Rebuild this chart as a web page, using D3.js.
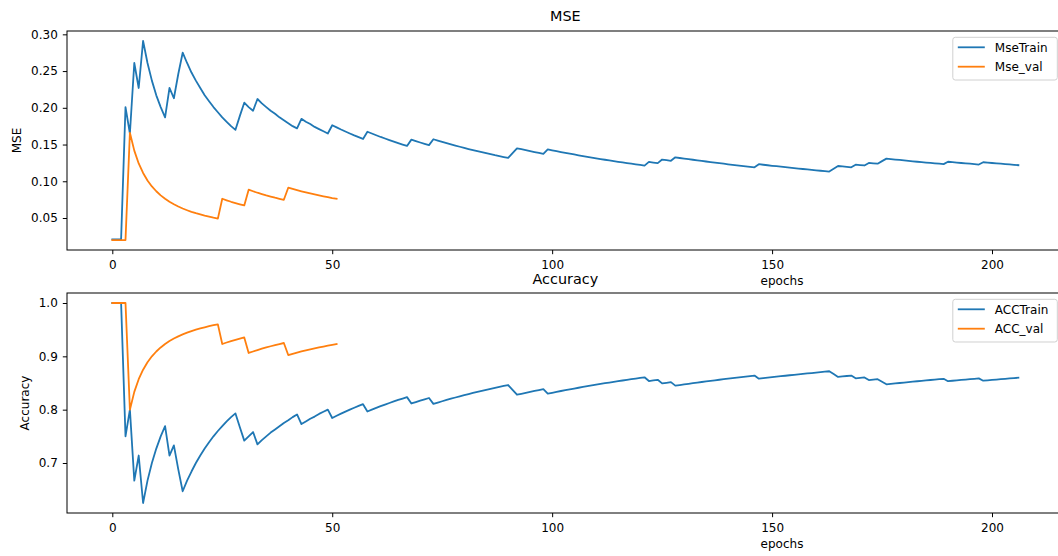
<!DOCTYPE html>
<meta charset="utf-8">
<style>
body { margin: 0; background: #fff; }
svg text { font-family: 'DejaVu Sans', sans-serif; fill: #000; }
</style>
<body>
<svg class="chart"></svg>
<script src="https://d3js.org/d3.v7.min.js"></script>
<script>
// values, one entry per epoch (0..206 train, 0..51 val)
const mseTrain = [
  .021,.021,.021,.201,.165,.261,.227,.291,.261,.237,
  .217,.201,.187,.227,.213,.246,.275,.261,.248,.237,
  .227,.217,.209,.201,.194,.187,.181,.175,.170,.189,
  .207,.201,.196,.212,.206,.201,.196,.192,.187,.183,
  .179,.175,.172,.185,.181,.178,.174,.171,.168,.165,
  .1763,.1733,.1704,.1677,.165,.1624,.160,.1576,.1674,.165,
  .1626,.1603,.1582,.156,.1539,.1519,.150,.1481,.1567,.1547,
  .1528,.151,.1492,.1572,.1554,.1536,.1519,.1502,.1486,.147,
  .1454,.1439,.1425,.141,.1396,.1382,.1369,.1355,.1343,.133,
  .1318,.1384,.1449,.1436,.1423,.141,.1398,.1386,.1374,.1434,
  .1422,.141,.1398,.1387,.1376,.1365,.1354,.1343,.1333,.1323,
  .1313,.1303,.1293,.1284,.1274,.1265,.1256,.1247,.1239,.123,
  .1222,.1213,.1264,.1255,.1247,.1296,.1287,.1279,.1326,.1317,
  .1309,.1301,.1293,.1285,.1277,.1269,.1261,.1253,.1246,.1239,
  .1231,.1224,.1217,.121,.1203,.1196,.119,.1232,.1225,.1218,
  .1211,.1205,.1198,.1192,.1185,.1179,.1173,.1167,.1161,.1155,
  .1149,.1143,.1138,.1132,.117,.1208,.1202,.1196,.119,.1226,
  .1221,.1215,.125,.1244,.1239,.1274,.1308,.1302,.1296,.129,
  .1284,.1278,.1272,.1266,.1261,.1255,.125,.1244,.1239,.1233,
  .1266,.126,.1255,.1249,.1244,.1239,.1233,.1228,.1259,.1254,
  .1249,.1244,.1239,.1234,.1229,.1224,.1219
];
const mseVal = [
  .02,.02,.02,.02,.166,.1417,.1243,.1113,.1011,.093,
  .0864,.0808,.0762,.0721,.0687,.0656,.0629,.0606,.0584,.0565,
  .0548,.0532,.0518,.0504,.0492,.0762,.0741,.0721,.0704,.0687,
  .0671,.0885,.0864,.0844,.0826,.0808,.0792,.0776,.0762,.0748,
  .0912,.0895,.0879,.0864,.0849,.0835,.0821,.0808,.0796,.0784,
  .0772,.0762
];
const accTrain = [
  1,1,1,.750,.800,.667,.714,.625,.667,.700,
  .727,.750,.769,.714,.733,.688,.647,.667,.684,.700,
  .714,.727,.739,.750,.760,.769,.778,.786,.793,.767,
  .742,.750,.758,.735,.743,.750,.757,.763,.769,.775,
  .780,.786,.791,.773,.778,.783,.787,.792,.796,.800,
  .7843,.7885,.7925,.7963,.8000,.8036,.807,.8103,.7966,.8000,
  .8033,.8065,.8095,.8125,.8154,.8182,.8209,.8235,.8116,.8143,
  .8169,.8194,.8219,.8108,.8133,.8158,.8182,.8205,.8228,.825,
  .8272,.8293,.8313,.8333,.8353,.8372,.8391,.8409,.8427,.8444,
  .8462,.837,.828,.8298,.8316,.8333,.8351,.8367,.8384,.83,
  .8317,.8333,.835,.8365,.8381,.8396,.8411,.8426,.844,.8455,
  .8468,.8482,.8496,.8509,.8522,.8534,.8547,.8559,.8571,.8583,
  .8595,.8607,.8537,.8548,.856,.8492,.8504,.8516,.845,.8462,
  .8473,.8485,.8496,.8507,.8519,.8529,.854,.8551,.8561,.8571,
  .8582,.8592,.8601,.8611,.8621,.863,.8639,.8581,.8591,.86,
  .8609,.8618,.8627,.8636,.8645,.8654,.8662,.8671,.8679,.8687,
  .8696,.8704,.8712,.872,.8667,.8614,.8623,.8631,.8639,.8588,
  .8596,.8605,.8555,.8563,.8571,.8523,.8475,.8483,.8492,.85,
  .8508,.8516,.8525,.8533,.8541,.8548,.8556,.8564,.8571,.8579,
  .8534,.8542,.8549,.8557,.8564,.8571,.8579,.8586,.8543,.855,
  .8557,.8564,.8571,.8578,.8585,.8592,.8599
];
const accVal = [
  1,1,1,1,.8,.8333,.8571,.875,.8889,.9,
  .9091,.9167,.9231,.9286,.9333,.9375,.9412,.9444,.9474,.95,
  .9524,.9545,.9565,.9583,.96,.9231,.9259,.9286,.931,.9333,
  .9355,.9063,.9091,.9118,.9143,.9167,.9189,.9211,.9231,.925,
  .9024,.9048,.907,.9091,.9111,.913,.9149,.9167,.9184,.92,
  .9216,.9231
];

const xTicks = [0, 50, 100, 150, 200];
const mseTicks = [0.05, 0.10, 0.15, 0.20, 0.25, 0.30];
const accTicks = [0.7, 0.8, 0.9, 1.0];

const blue = '#1f77b4', orange = '#ff7f0e';

let rwidth = 1058, rheight = 556;
let left = 67, right = 1063.7;

let svg = d3.select('.chart').attr('width', rwidth).attr('height', rheight);

let panels = [
  {title: 'MSE', ylabel: 'MSE', top: 31, bottom: 250, ticks: mseTicks, fmt: d3.format('.2f'),
   titleY: 20.5, ylabelX: 21, series: [{name: 'MseTrain', values: mseTrain, color: blue}, {name: 'Mse_val', values: mseVal, color: orange}]},
  {title: 'Accuracy', ylabel: 'Accuracy', top: 293, bottom: 513, ticks: accTicks, fmt: d3.format('.1f'),
   titleY: 283.5, ylabelX: 29, series: [{name: 'ACCTrain', values: accTrain, color: blue}, {name: 'ACC_val', values: accVal, color: orange}]}
];

// matplotlib style 5% margins
function padded(ext) {
  let m = (ext[1] - ext[0]) * 0.05;
  return [ext[0] - m, ext[1] + m];
}

let xscale = d3.scaleLinear().domain(padded([0, mseTrain.length - 1])).range([left, right]);

panels.forEach(p => {
  let all = p.series.flatMap(s => s.values);
  let yscale = d3.scaleLinear().domain(padded(d3.extent(all))).range([p.bottom, p.top]);
  let g = svg.append('g');

  let line = d3.line().x((d, i) => xscale(i)).y(d => yscale(d));
  g.selectAll('path.series')
    .data(p.series)
    .join('path')
    .attr('class', 'series')
    .attr('d', d => line(d.values))
    .attr('fill', 'none')
    .attr('stroke', d => d.color)
    .attr('stroke-width', 1.8)
    .attr('stroke-linejoin', 'round')
    .attr('stroke-linecap', 'square');

  // axes
  let xa = g.append('g').attr('transform', `translate(0,${p.bottom})`)
    .call(d3.axisBottom(xscale).tickValues(xTicks).tickSize(4.2).tickPadding(6.5).tickSizeOuter(0));
  let ya = g.append('g').attr('transform', `translate(${left},0)`)
    .call(d3.axisLeft(yscale).tickValues(p.ticks).tickFormat(p.fmt).tickSize(4.2).tickPadding(5).tickSizeOuter(0));
  [xa, ya].forEach(a => {
    a.select('.domain').remove();
    a.selectAll('line').attr('stroke', '#000').attr('stroke-width', 1);
    a.selectAll('text').style('font-size', '12px').attr('fill', '#000');
  });

  // frame
  g.append('rect')
    .attr('x', left).attr('y', p.top)
    .attr('width', right - left).attr('height', p.bottom - p.top)
    .attr('fill', 'none').attr('stroke', '#000').attr('stroke-width', 1);

  g.append('text').attr('x', (left + right) / 2).attr('y', p.titleY)
    .attr('text-anchor', 'middle').style('font-size', '14.4px').text(p.title);

  g.append('text').attr('x', 782).attr('y', p.bottom + 35)
    .attr('text-anchor', 'middle').style('font-size', '12px').text('epochs');

  g.append('text')
    .attr('transform', `translate(${p.ylabelX},${(p.top + p.bottom) / 2}) rotate(-90)`)
    .attr('text-anchor', 'middle').style('font-size', '12px').text(p.ylabel);

  // legend
  let lw = 104.5, lh = 42.7;
  let lx = right - 6.4 - lw, ly = p.top + 6.3;
  let leg = g.append('g').attr('transform', `translate(${lx},${ly})`);
  leg.append('rect').attr('width', lw).attr('height', lh).attr('rx', 2.5)
    .attr('fill', 'rgba(255,255,255,0.8)').attr('stroke', '#d0d0d0').attr('stroke-width', 1);
  let items = leg.selectAll('g.item').data(p.series).join('g')
    .attr('class', 'item')
    .attr('transform', (d, i) => `translate(0,${10 + i * 19.4})`);
  items.append('line').attr('x1', 5).attr('x2', 32).attr('y1', 0).attr('y2', 0)
    .attr('stroke', d => d.color).attr('stroke-width', 1.8);
  items.append('text').attr('x', 42).attr('y', 4.3).style('font-size', '12px').text(d => d.name);
});
</script>
</body>
